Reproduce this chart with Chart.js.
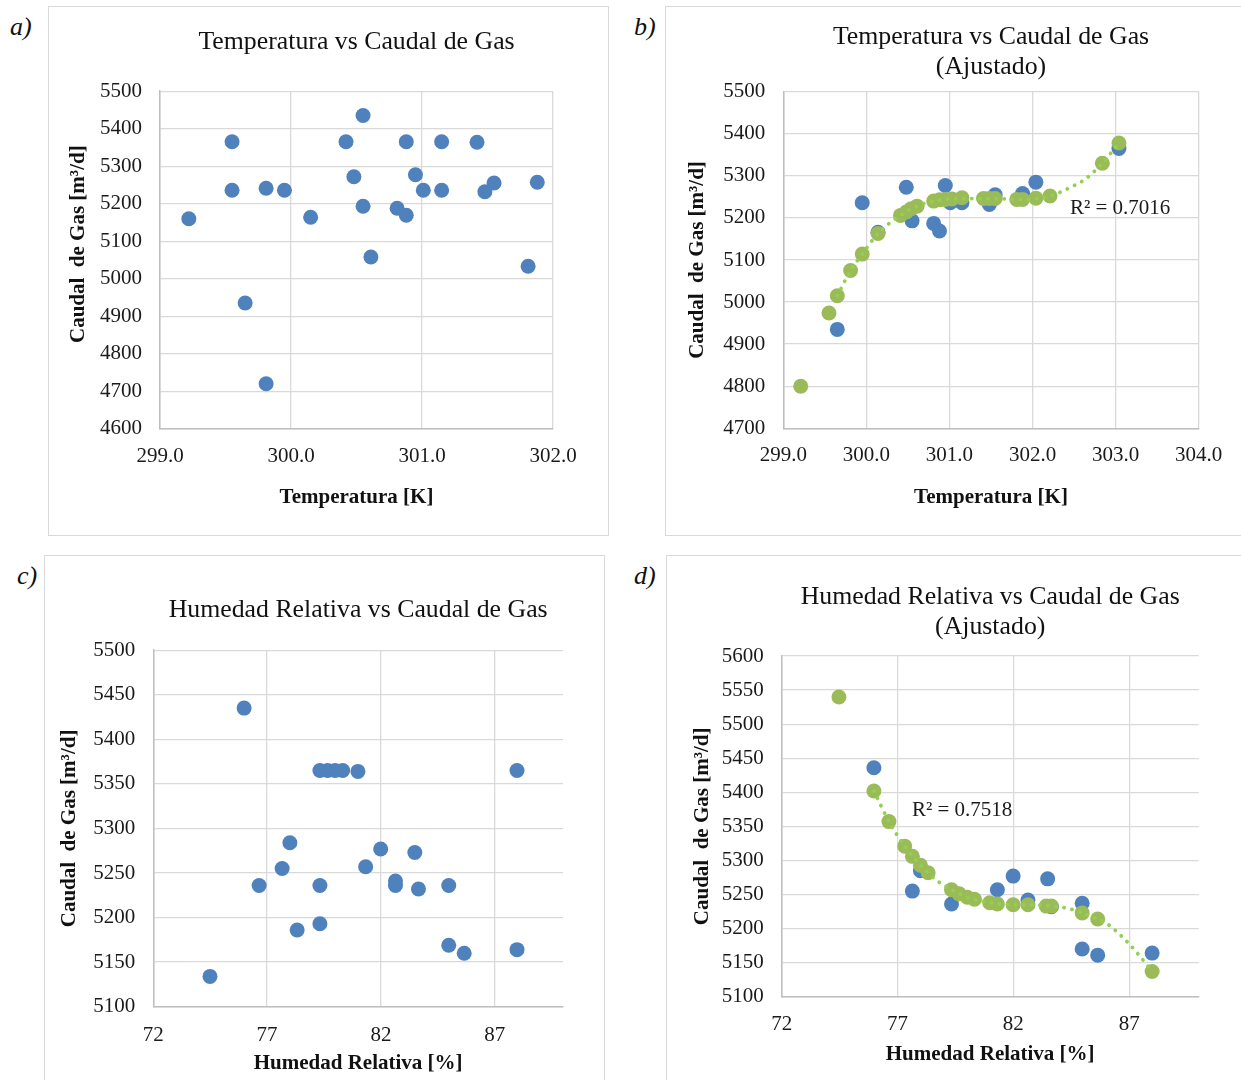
<!DOCTYPE html>
<html><head><meta charset="utf-8">
<script src="https://cdn.jsdelivr.net/npm/chart.js@4.4.1/dist/chart.umd.min.js"></script>
<style>
body{margin:0;background:#fff;width:1241px;height:1080px;overflow:hidden;position:relative;font-family:"Liberation Serif",serif;}
.panel{position:absolute;border:1.5px solid #d9d9d9;box-sizing:border-box;}
canvas{position:absolute;}
.lab{position:absolute;font:italic 26px "Liberation Serif",serif;line-height:1;color:#111;}
</style></head><body>
<div class="panel" style="left:48px;top:6px;width:561px;height:530px"></div>
<div class="panel" style="left:665px;top:6px;width:600px;height:530px"></div>
<div class="panel" style="left:44px;top:555px;width:561px;height:600px"></div>
<div class="panel" style="left:666px;top:555px;width:600px;height:600px"></div>
<div class="lab" style="left:10px;top:14px">a)</div>
<div class="lab" style="left:634px;top:14px">b)</div>
<div class="lab" style="left:17px;top:563px">c)</div>
<div class="lab" style="left:634px;top:563px">d)</div>
<canvas id="ca" width="560" height="528" style="left:48px;top:7px"></canvas>
<canvas id="cb" width="576" height="528" style="left:665px;top:7px"></canvas>
<canvas id="cc" width="559" height="524" style="left:45px;top:556px"></canvas>
<canvas id="cd" width="574" height="524" style="left:667px;top:556px"></canvas>
<script>
// ---- Data ----
const tempA   = [299.22, 299.55, 299.55, 299.65, 299.81, 299.81, 299.95, 300.15, 300.42, 300.48, 300.55, 300.55, 300.61, 300.81, 300.88, 300.88, 300.95, 301.01, 301.15, 301.15, 301.42, 301.48, 301.55, 301.81, 301.88];
const caudalA = [5160, 5365, 5236, 4935, 5241, 4720, 5236, 5164, 5365, 5272, 5435, 5193, 5058, 5188, 5169, 5365, 5277, 5236, 5365, 5236, 5364, 5232, 5255, 5033, 5257];

const tempB   = [299.65, 299.95, 300.14, 300.48, 300.55, 300.81, 300.88, 300.95, 301.01, 301.15, 301.48, 301.55, 301.88, 302.04, 303.04];
const caudalB = [4935, 5236, 5166, 5273, 5193, 5187, 5169, 5277, 5236, 5236, 5232, 5255, 5258, 5285, 5365];
const tempBAdj   = [299.21, 299.55, 299.65, 299.81, 299.95, 300.14, 300.41, 300.48, 300.54, 300.61, 300.81, 300.88, 300.95, 301.03, 301.15, 301.41, 301.48, 301.55, 301.81, 301.88, 302.04, 302.21, 302.84, 303.04];
const caudalBAdj = [4800, 4974, 5015, 5075, 5114, 5163, 5206, 5214, 5222, 5228, 5240, 5243, 5244, 5245, 5248, 5246, 5246, 5246, 5244, 5244, 5247, 5252, 5330, 5378];
const tempBTrend   = [299.65, 299.81, 299.95, 300.14, 300.41, 300.61, 300.81, 301.03, 301.48, 301.88, 302.21, 302.46, 302.64, 302.84, 303.04];
const caudalBTrend = [5015, 5075, 5114, 5163, 5206, 5228, 5240, 5245, 5246, 5244, 5252, 5273, 5293, 5330, 5378];

const humC    = [74.49, 75.99, 76.65, 77.66, 78.0, 78.32, 79.32, 79.66, 79.99, 80.32, 80.99, 79.32, 79.32, 81.33, 81.99, 82.64, 82.64, 83.49, 83.65, 84.98, 84.98, 85.66, 87.98, 87.98];
const caudalC = [5134, 5435, 5236, 5255, 5284, 5186, 5365, 5365, 5365, 5365, 5364, 5236, 5193, 5257, 5277, 5241, 5236, 5273, 5232, 5236, 5169, 5160, 5365, 5164];

const humD    = [75.98, 77.64, 77.99, 79.33, 81.31, 81.99, 82.63, 83.48, 83.64, 84.97, 84.97, 85.64, 87.99];
const caudalD = [5436, 5255, 5285, 5236, 5257, 5277, 5242, 5273, 5232, 5237, 5170, 5161, 5164];
const humDAdj    = [74.47, 75.98, 76.63, 77.31, 77.64, 77.99, 78.32, 79.33, 79.66, 80.01, 80.32, 80.98, 81.31, 81.99, 82.63, 83.42, 83.64, 84.97, 85.64, 87.99];
const caudalDAdj = [5540, 5402, 5357, 5321, 5306, 5293, 5282, 5257, 5251, 5246, 5243, 5238, 5236, 5235, 5235, 5233, 5233, 5223, 5214, 5137];
const humDTrend    = [75.98, 76.63, 77.31, 77.99, 78.6, 79.33, 80.01, 80.98, 81.99, 82.63, 83.64, 84.43, 84.97, 85.64, 86.01, 86.87, 87.3, 87.99];
const caudalDTrend = [5402, 5357, 5321, 5293, 5273, 5257, 5246, 5238, 5235, 5235, 5233, 5229, 5223, 5214, 5208, 5182, 5166, 5137];

// tick labels
const tempTicksA = [299, 300, 301, 302];
const tempTicksB = [299, 300, 301, 302, 303, 304];
const humTicks   = [72, 77, 82, 87];

const r2Labels = ['R\u00B2 = 0.7016', 'R\u00B2 = 0.7518'];
const titles = [['Temperatura vs Caudal de Gas'], ['Temperatura vs Caudal de Gas', '(Ajustado)'],
                ['Humedad Relativa vs Caudal de Gas'], ['Humedad Relativa vs Caudal de Gas', '(Ajustado)']];
const xTitles = ['Temperatura [K]', 'Humedad Relativa [%]'];
const yTitle = 'Caudal  de Gas [m\u00B3/d]';

// ---- Helpers ----
const FONT = '"Liberation Serif", "Times New Roman", serif';
Chart.defaults.font.family = FONT;
Chart.defaults.color = '#222';
const BLUE = '#4f81bd', GREEN = '#9bbb59', TREND = '#92d050', GRID = '#d9d9d9';
const zip = (xs, ys) => xs.map((x, i) => ({x, y: ys[i]}));

const r2Plugin = {
  id: 'r2',
  afterDatasetsDraw(chart, args, o) {
    if (!o || !o.text) return;
    const {ctx, scales: {x, y}} = chart;
    ctx.save();
    ctx.font = '21px ' + FONT;
    ctx.fillStyle = '#1a1a1a';
    ctx.textAlign = 'left';
    ctx.textBaseline = 'middle';
    ctx.fillText(o.text, x.getPixelForValue(o.x), y.getPixelForValue(o.y));
    ctx.restore();
  }
};

function scatterSet(data, color) {
  return {type: 'scatter', data, backgroundColor: color, borderColor: color,
    pointRadius: 7.5, pointHoverRadius: 7.5, pointBorderWidth: 0, showLine: false};
}
function trendSet(data) {
  return {type: 'line', data, borderColor: TREND, borderWidth: 3.8, borderCapStyle: 'round',
    borderDash: [0.1, 8], pointRadius: 0, fill: false, cubicInterpolationMode: 'monotone'};
}

function makeChart(id, p) {
  const xScale = {
    type: 'linear', min: p.xmin, max: p.xmax,
    ticks: {padding: p.xTickPad, font: {size: 21}, color: '#1a1a1a', callback: v => p.xfmt(v)},
    afterBuildTicks: s => { s.ticks = p.xticks.map(v => ({value: v})); },
    grid: {color: GRID, lineWidth: 1.3, drawTicks: false},
    border: {color: '#bfbfbf', width: 1.5},
    title: {display: true, text: p.xTitle, font: {size: 21, weight: 'bold'}, color: '#111',
      padding: {top: 0, bottom: p.xTitlePad}},
    afterFit: s => { s.height = p.xH; }
  };
  const yScale = {
    type: 'linear', min: p.ymin, max: p.ymax,
    ticks: {stepSize: p.ystep, padding: 18, font: {size: 21}, color: '#1a1a1a', callback: v => String(v)},
    grid: {color: GRID, lineWidth: 1.3, drawTicks: false},
    border: {color: '#bfbfbf', width: 1.5},
    title: {display: true, text: p.yText, font: {size: 21, weight: 'bold'}, color: '#111',
      padding: {top: p.yTitlePad, bottom: 0}},
    afterFit: s => { s.width = p.yW; }
  };
  return new Chart(document.getElementById(id), {
    data: {datasets: p.datasets},
    options: {
      responsive: false, animation: false, devicePixelRatio: 1,
      layout: {padding: {left: 0, right: p.padR, top: 0, bottom: 0}},
      scales: {x: xScale, y: yScale},
      plugins: {
        legend: {display: false}, tooltip: {enabled: false},
        title: {display: true, text: p.title, fullSize: false, color: '#111',
          font: {size: 25.8, weight: 'normal', lineHeight: 1.17},
          padding: {top: p.tTop, bottom: p.tBot}},
        r2: p.r2 || {}
      }
    },
    plugins: [r2Plugin]
  });
}

const fmt1 = v => v.toFixed(1);
const fmt0 = v => String(v);

makeChart('ca', {
  datasets: [scatterSet(zip(tempA, caudalA), BLUE)],
  xmin: 299, xmax: 302, xticks: tempTicksA, xfmt: fmt1, xTitle: xTitles[0],
  ymin: 4600, ymax: 5500, ystep: 100, yText: '      ' + yTitle,
  yW: 112, xH: 106.3, padR: 55, tTop: 20, tBot: 34, title: titles[0],
  xTickPad: 15, xTitlePad: 25, yTitlePad: 18.4
});
makeChart('cb', {
  datasets: [trendSet(zip(tempBTrend, caudalBTrend)), scatterSet(zip(tempBAdj, caudalBAdj), GREEN), scatterSet(zip(tempB, caudalB), BLUE)],
  xmin: 299, xmax: 304, xticks: tempTicksB, xfmt: fmt1, xTitle: xTitles[0],
  ymin: 4700, ymax: 5500, ystep: 100, yText: yTitle,
  yW: 118.3, xH: 106.7, padR: 42.3, tTop: 15, tBot: 9.3, title: titles[1],
  xTickPad: 15, xTitlePad: 25, yTitlePad: 20.4,
  r2: {text: r2Labels[0], x: 302.45, y: 5223}
});
makeChart('cc', {
  datasets: [scatterSet(zip(humC, caudalC), BLUE)],
  xmin: 72, xmax: 90, xticks: humTicks, xfmt: fmt0, xTitle: xTitles[1],
  ymin: 5100, ymax: 5500, ystep: 50, yText: yTitle,
  yW: 108.3, xH: 73.3, padR: 41, tTop: 39, tBot: 25, title: titles[2],
  xTickPad: 16, xTitlePad: 3.4, yTitlePad: 12.4
});
makeChart('cd', {
  datasets: [trendSet(zip(humDTrend, caudalDTrend)), scatterSet(zip(humDAdj, caudalDAdj), GREEN), scatterSet(zip(humD, caudalD), BLUE)],
  xmin: 72, xmax: 90, xticks: humTicks, xfmt: fmt0, xTitle: xTitles[1],
  ymin: 5100, ymax: 5600, ystep: 50, yText: yTitle,
  yW: 114.7, xH: 83.3, padR: 42.3, tTop: 26, tBot: 13.7, title: titles[3],
  xTickPad: 15.5, xTitlePad: 12.4, yTitlePad: 23.4,
  r2: {text: r2Labels[1], x: 77.62, y: 5374}
});
</script>
</body></html>
